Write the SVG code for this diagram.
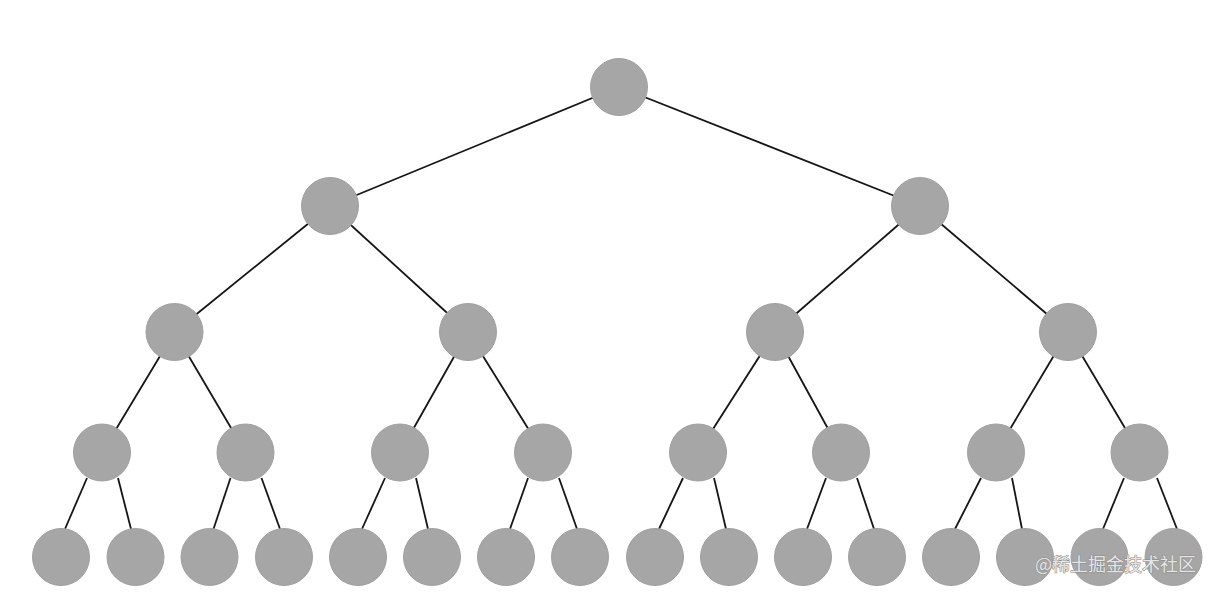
<svg xmlns="http://www.w3.org/2000/svg" width="1216" height="593" viewBox="0 0 1216 593">
<style>
.n{fill:#a6a6a6;stroke:#a0a0a0;stroke-width:1}
.e{stroke:#151515;stroke-width:1.8;fill:none}
.wm{font-family:"Noto Sans CJK SC","Liberation Sans",sans-serif;font-size:18px;fill:#e6e6e6;stroke:#8a8a8a;stroke-width:1;paint-order:stroke}
</style>
<rect width="1216" height="593" fill="#ffffff"/>
<g id="connectors">
<line class="e" x1="619" y1="87" x2="330" y2="206"/>
<line class="e" x1="619" y1="87" x2="920" y2="206"/>
<line class="e" x1="330" y1="206" x2="174.5" y2="332"/>
<line class="e" x1="330" y1="206" x2="468" y2="332"/>
<line class="e" x1="920" y1="206" x2="775" y2="332"/>
<line class="e" x1="920" y1="206" x2="1068" y2="332"/>
<line class="e" x1="174.5" y1="332" x2="102" y2="452.5"/>
<line class="e" x1="174.5" y1="332" x2="245.5" y2="452.5"/>
<line class="e" x1="468" y1="332" x2="400" y2="452.5"/>
<line class="e" x1="468" y1="332" x2="543" y2="452.5"/>
<line class="e" x1="775" y1="332" x2="698" y2="452.5"/>
<line class="e" x1="775" y1="332" x2="841" y2="452.5"/>
<line class="e" x1="1068" y1="332" x2="996" y2="452.5"/>
<line class="e" x1="1068" y1="332" x2="1139.5" y2="452.5"/>
<line class="e" x1="87" y1="478" x2="65" y2="529"/>
<line class="e" x1="118" y1="478" x2="131" y2="529"/>
<line class="e" x1="230.5" y1="478" x2="213.5" y2="529"/>
<line class="e" x1="261.5" y1="478" x2="280" y2="529"/>
<line class="e" x1="385" y1="478" x2="362" y2="529"/>
<line class="e" x1="416" y1="478" x2="428" y2="529"/>
<line class="e" x1="528" y1="478" x2="510" y2="529"/>
<line class="e" x1="559" y1="478" x2="577" y2="529"/>
<line class="e" x1="683" y1="478" x2="659" y2="529"/>
<line class="e" x1="714" y1="478" x2="726" y2="529"/>
<line class="e" x1="826" y1="478" x2="807" y2="529"/>
<line class="e" x1="857" y1="478" x2="874" y2="529"/>
<line class="e" x1="981" y1="478" x2="955" y2="529"/>
<line class="e" x1="1012" y1="478" x2="1022" y2="529"/>
<line class="e" x1="1124" y1="478" x2="1103" y2="529"/>
<line class="e" x1="1157" y1="478" x2="1177" y2="529"/>
</g>
<g id="root"><circle class="n" cx="619" cy="87" r="28.5"/></g>
<g id="n1-1"><circle class="n" cx="330" cy="206" r="28.5"/></g>
<g id="n1-2"><circle class="n" cx="920" cy="206" r="28.5"/></g>
<g id="n2-1"><circle class="n" cx="174.5" cy="332" r="28.5"/></g>
<g id="n2-2"><circle class="n" cx="468" cy="332" r="28.5"/></g>
<g id="n2-3"><circle class="n" cx="775" cy="332" r="28.5"/></g>
<g id="n2-4"><circle class="n" cx="1068" cy="332" r="28.5"/></g>
<g id="n3-1"><circle class="n" cx="102" cy="452.5" r="28.5"/></g>
<g id="n3-2"><circle class="n" cx="245.5" cy="452.5" r="28.5"/></g>
<g id="n3-3"><circle class="n" cx="400" cy="452.5" r="28.5"/></g>
<g id="n3-4"><circle class="n" cx="543" cy="452.5" r="28.5"/></g>
<g id="n3-5"><circle class="n" cx="698" cy="452.5" r="28.5"/></g>
<g id="n3-6"><circle class="n" cx="841" cy="452.5" r="28.5"/></g>
<g id="n3-7"><circle class="n" cx="996" cy="452.5" r="28.5"/></g>
<g id="n3-8"><circle class="n" cx="1139.5" cy="452.5" r="28.5"/></g>
<g id="n4-1"><circle class="n" cx="61" cy="557" r="28.5"/></g>
<g id="n4-2"><circle class="n" cx="135.5" cy="557" r="28.5"/></g>
<g id="n4-3"><circle class="n" cx="209.5" cy="557" r="28.5"/></g>
<g id="n4-4"><circle class="n" cx="284" cy="557" r="28.5"/></g>
<g id="n4-5"><circle class="n" cx="358" cy="557" r="28.5"/></g>
<g id="n4-6"><circle class="n" cx="432" cy="557" r="28.5"/></g>
<g id="n4-7"><circle class="n" cx="506" cy="557" r="28.5"/></g>
<g id="n4-8"><circle class="n" cx="580" cy="557" r="28.5"/></g>
<g id="n4-9"><circle class="n" cx="655" cy="557" r="28.5"/></g>
<g id="n4-10"><circle class="n" cx="729" cy="557" r="28.5"/></g>
<g id="n4-11"><circle class="n" cx="803" cy="557" r="28.5"/></g>
<g id="n4-12"><circle class="n" cx="877" cy="557" r="28.5"/></g>
<g id="n4-13"><circle class="n" cx="951" cy="557" r="28.5"/></g>
<g id="n4-14"><circle class="n" cx="1025" cy="557" r="28.5"/></g>
<g id="n4-15"><circle class="n" cx="1099.5" cy="557" r="28.5"/></g>
<g id="n4-16"><circle class="n" cx="1173.5" cy="557" r="28.5"/></g>
<text class="wm" x="1035" y="571">@稀土掘金技术社区</text>
</svg>
